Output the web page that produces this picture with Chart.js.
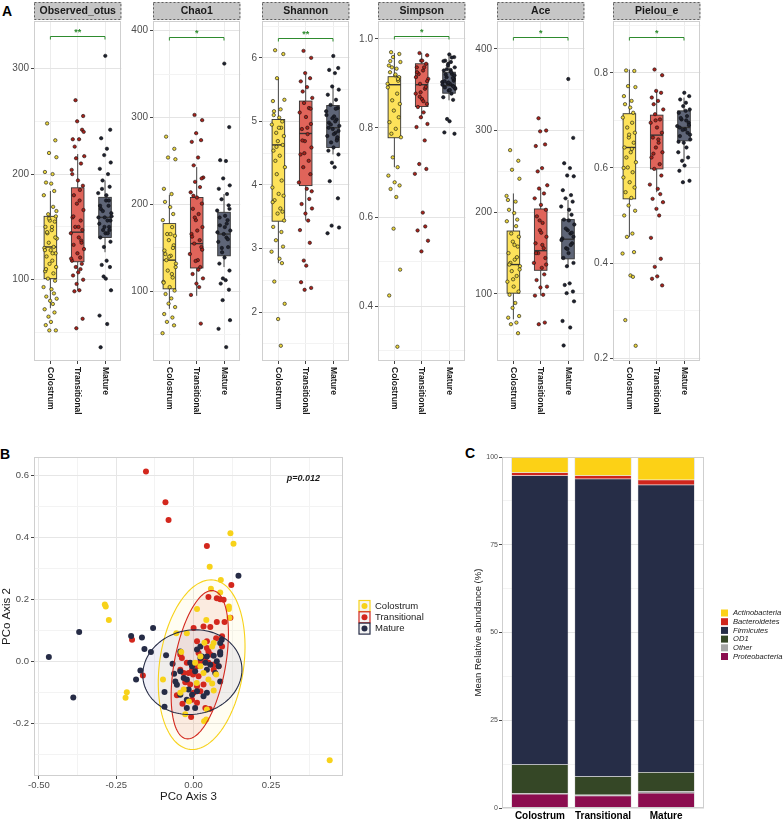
<!DOCTYPE html>
<html>
<head>
<meta charset="utf-8">
<script src="https://cdn.jsdelivr.net/npm/chart.js@4.4.0/dist/chart.umd.min.js"></script>
<style>
  body { margin: 0; background: #fff; width: 783px; height: 820px; position: relative; overflow: hidden; font-family: "Liberation Sans", Arial, sans-serif; }
  canvas { position: absolute; }
  .tag { position: absolute; font-weight: bold; font-size: 14px; line-height: 14px; color: #000; }
</style>
</head>
<body>
<div class="tag" style="left:2px;top:4px">A</div>
<div class="tag" style="left:0px;top:447px">B</div>
<div class="tag" style="left:465px;top:446px">C</div>
<script>
// ---------- data: panel A (alpha diversity) ----------
const groups = ['Colostrum', 'Transitional', 'Mature'];
const metrics = ['Observed_otus', 'Chao1', 'Shannon', 'Simpson', 'Ace', 'Pielou_e'];
const signif = ['**', '*', '**', '*', '*', '*'];

// box stats per group: lower whisker, Q1, median, Q3, upper whisker
const boxObserved = [[73, 101, 131, 160, 184], [90, 117, 145, 187, 219], [126, 140, 159, 178, 194]];
const boxChao1 = [[80, 103, 136, 178, 211], [95, 127, 155, 208, 243], [128, 141, 166, 191, 212]];
const boxShannon = [[2.77, 3.43, 4.63, 5.03, 5.68], [3.44, 3.99, 4.81, 5.32, 5.74], [4.48, 4.59, 4.90, 5.25, 5.55]];
const boxSimpson = [[0.712, 0.778, 0.897, 0.915, 0.968], [0.82, 0.848, 0.897, 0.944, 0.968], [0.862, 0.878, 0.895, 0.925, 0.965]];
const boxAce = [[69, 101, 136, 177, 223], [98, 129, 153, 204, 229], [134, 143, 167, 191, 215]];
const boxPielou = [[0.455, 0.535, 0.643, 0.714, 0.807], [0.549, 0.598, 0.669, 0.711, 0.762], [0.615, 0.657, 0.685, 0.72, 0.748]];

// individual samples
const obsCol = [248, 232, 220, 216, 202, 200, 192, 191, 184, 180, 169, 162, 160, 156, 155, 150, 147, 144, 139, 135, 131, 130, 128, 125, 122, 118, 115, 112, 108, 106, 101, 99, 93, 91, 87, 84, 82, 80, 77, 72, 69, 65, 60, 57, 52, 52, 150, 145, 140, 158, 165, 128, 125, 110];
const obsTra = [270, 255, 250, 242, 233, 233, 226, 217, 215, 210, 204, 194, 189, 180, 175, 172, 166, 159, 156, 150, 147, 144, 140, 137, 133, 129, 125, 121, 118, 115, 112, 107, 104, 100, 96, 90, 89, 63, 54, 240, 200, 185, 160, 150, 135, 120, 110];
const obsMat = [312, 242, 234, 224, 218, 211, 205, 200, 194, 188, 182, 175, 170, 167, 163, 159, 156, 153, 150, 147, 144, 140, 136, 131, 118, 114, 112, 103, 90, 66, 58, 36, 101, 175, 159, 144, 165, 156, 150, 147, 170, 180, 186, 160];

const chaoCol = [278, 264, 254, 252, 218, 212, 203, 197, 189, 182, 174, 166, 164, 159, 153, 147, 141, 136, 132, 124, 116, 111, 105, 101, 97, 92, 86, 82, 74, 70, 65, 61, 52, 166, 150, 143, 128, 140, 120, 110];
const chaoTra = [303, 297, 282, 274, 272, 254, 245, 231, 226, 220, 214, 208, 201, 195, 189, 182, 174, 166, 159, 155, 151, 143, 136, 128, 120, 115, 109, 105, 96, 63, 185, 170, 163, 148, 135, 125, 210, 230];
const chaoMat = [362, 289, 251, 250, 230, 222, 218, 212, 206, 199, 193, 187, 182, 176, 170, 166, 162, 157, 151, 145, 139, 132, 124, 115, 113, 109, 102, 90, 67, 57, 36, 185, 174, 160, 168, 178, 150, 195];

const shanCol = [6.12, 6.06, 5.68, 5.34, 5.32, 5.19, 5.16, 5.06, 5.0, 4.95, 4.9, 4.82, 4.77, 4.69, 4.63, 4.54, 4.46, 4.38, 4.28, 4.17, 4.07, 3.96, 3.86, 3.83, 3.76, 3.63, 3.55, 3.44, 3.34, 3.26, 3.13, 3.03, 2.95, 2.84, 2.77, 2.48, 2.13, 1.89, 1.47, 3.73, 3.58, 4.6, 4.9, 5.1];
const shanTra = [6.11, 6.0, 5.76, 5.68, 5.63, 5.54, 5.47, 5.37, 5.29, 5.21, 5.14, 5.07, 4.96, 4.88, 4.8, 4.69, 4.59, 4.48, 4.38, 4.28, 4.17, 4.04, 3.94, 3.78, 3.7, 3.63, 3.55, 3.44, 3.29, 3.09, 2.81, 2.73, 2.47, 2.38, 2.35, 4.9, 4.7, 5.2, 4.5, 3.9];
const shanMat = [6.03, 5.84, 5.81, 5.76, 5.55, 5.5, 5.42, 5.34, 5.26, 5.21, 5.16, 5.08, 5.03, 4.98, 4.93, 4.88, 4.82, 4.77, 4.72, 4.67, 4.59, 4.54, 4.48, 4.35, 4.28, 4.06, 3.79, 3.36, 3.33, 3.24, 5.0, 4.9, 4.8, 4.7, 5.1, 5.2, 4.95, 4.85, 5.05, 4.75];

const simCol = [0.97, 0.966, 0.959, 0.948, 0.94, 0.933, 0.925, 0.918, 0.906, 0.891, 0.877, 0.862, 0.854, 0.839, 0.824, 0.813, 0.798, 0.787, 0.779, 0.734, 0.712, 0.693, 0.678, 0.671, 0.663, 0.645, 0.574, 0.482, 0.424, 0.309, 0.936, 0.914, 0.899, 0.92, 0.91, 0.95];
const simTra = [0.968, 0.963, 0.951, 0.944, 0.936, 0.929, 0.921, 0.91, 0.899, 0.888, 0.877, 0.865, 0.854, 0.847, 0.835, 0.824, 0.809, 0.802, 0.772, 0.719, 0.708, 0.697, 0.61, 0.579, 0.57, 0.547, 0.523, 0.936, 0.914, 0.892, 0.87, 0.951, 0.925, 0.905, 0.88, 0.86];
const simMat = [0.965, 0.959, 0.951, 0.948, 0.944, 0.936, 0.929, 0.921, 0.914, 0.906, 0.903, 0.899, 0.895, 0.891, 0.888, 0.884, 0.877, 0.869, 0.863, 0.82, 0.815, 0.79, 0.787, 0.94, 0.93, 0.92, 0.91, 0.9, 0.89, 0.95, 0.925, 0.905, 0.885, 0.912, 0.897, 0.958, 0.932, 0.918, 0.902, 0.893];

const aceCol = [276, 263, 252, 241, 215, 213, 203, 199, 191, 189, 183, 174, 170, 164, 158, 150, 142, 138, 134, 128, 122, 115, 109, 103, 99, 89, 83, 73, 71, 65, 63, 52, 220, 160, 145, 136, 130, 118];
const aceTra = [315, 300, 299, 283, 281, 254, 250, 233, 229, 223, 217, 209, 203, 195, 187, 178, 170, 162, 156, 150, 144, 138, 132, 124, 117, 109, 108, 99, 98, 65, 63, 175, 150, 136, 190, 160];
const aceMat = [363, 291, 260, 254, 245, 244, 227, 221, 217, 213, 207, 203, 197, 191, 185, 178, 174, 168, 162, 156, 150, 144, 138, 134, 113, 111, 103, 101, 91, 67, 59, 37, 190, 175, 166, 160, 180, 170, 155];

const pieCol = [0.805, 0.804, 0.772, 0.77, 0.751, 0.741, 0.734, 0.727, 0.716, 0.706, 0.695, 0.685, 0.674, 0.664, 0.653, 0.643, 0.633, 0.622, 0.612, 0.601, 0.591, 0.58, 0.57, 0.559, 0.549, 0.537, 0.521, 0.51, 0.5, 0.462, 0.455, 0.423, 0.42, 0.374, 0.371, 0.28, 0.226, 0.67, 0.64, 0.6];
const pieTra = [0.807, 0.795, 0.762, 0.758, 0.748, 0.741, 0.734, 0.723, 0.713, 0.702, 0.695, 0.685, 0.674, 0.664, 0.653, 0.643, 0.633, 0.622, 0.608, 0.598, 0.584, 0.565, 0.556, 0.545, 0.535, 0.528, 0.514, 0.5, 0.453, 0.409, 0.392, 0.372, 0.367, 0.353, 0.7, 0.66, 0.63];
const pieMat = [0.758, 0.751, 0.744, 0.737, 0.73, 0.723, 0.716, 0.709, 0.702, 0.695, 0.688, 0.681, 0.674, 0.667, 0.66, 0.653, 0.643, 0.633, 0.622, 0.615, 0.605, 0.594, 0.573, 0.57, 0.72, 0.705, 0.69, 0.68, 0.67, 0.655, 0.7, 0.685];

// horizontal jitter of the samples (category units)
const jitter = [-0.12, 0.18, -0.05, 0.22, -0.2, 0.08, -0.16, 0.03, 0.14, -0.24, 0.1, -0.08, 0.2, -0.02, 0.16, -0.18, 0.05, -0.11, 0.24, -0.06, 0.12, -0.22, 0.01, 0.19, -0.14, 0.07, -0.03, 0.21, -0.19, 0.11, -0.09, 0.17, -0.25, 0.04, 0.13, -0.15, 0.23, -0.01, 0.09, -0.21, 0.15, -0.07, 0.02, -0.17, 0.2, -0.04, 0.06];

// axis ranges, grid step, label step, bracket height
const yRange = [[23, 345], [20, 411], [1.23, 6.58], [0.277, 1.04], [18, 434], [0.194, 0.909]];
const yGridStep = [50, 50, 0.5, 0.1, 50, 0.1];
const yLabelStep = [100, 100, 1, 0.2, 100, 0.2];
const bracketAt = [331, 393, 6.32, 1.006, 415, 0.875];

// ---------- data: panel B (PCoA) ----------
const pcoCol = [[0.119, 0.414], [0.129, 0.38], [0.052, 0.306], [0.088, 0.263], [0.056, 0.235], [0.086, 0.223], [0.011, 0.169], [0.114, 0.177], [0.114, 0.169], [0.116, 0.141], [0.041, 0.134], [-0.056, 0.091], [-0.022, 0.091], [0.065, 0.059], [0.06, 0.048], [-0.287, 0.184], [-0.284, 0.177], [-0.274, 0.134], [-0.216, -0.1], [-0.22, -0.118], [-0.099, -0.059], [0.073, -0.043], [0.06, -0.072], [0.065, -0.094], [-0.032, -0.091], [-0.027, -0.171], [0.043, -0.156], [0.034, -0.194], [0.041, -0.188], [0.44, -0.32], [0.022, -0.016], [0.032, -0.038], [0.005, -0.005], [-0.043, -0.102], [0.048, -0.059], [0.022, 0.016], [-0.04, 0.03], [0.01, -0.07], [0.035, 0.06], [-0.015, -0.13]];
const pcoTra = [[-0.154, 0.614], [-0.091, 0.515], [-0.081, 0.457], [0.043, 0.373], [0.122, 0.247], [0.048, 0.208], [0.075, 0.204], [0.086, 0.201], [0.097, 0.199], [-0.199, 0.07], [-0.164, -0.046], [-0.008, -0.18], [-0.036, -0.137], [-0.054, -0.11], [0.038, -0.151], [0.052, -0.154], [0.119, 0.141], [0.1, 0.127], [0.075, 0.127], [0.032, 0.113], [0.054, 0.111], [0, 0.108], [0.011, 0.065], [0.043, 0.065], [0.092, 0.081], [0.073, 0.075], [-0.043, 0.022], [-0.038, 0.011], [0.043, 0.043], [0.048, 0.032], [0.054, 0.022], [0.038, 0.011], [0.048, -0.005], [0.065, -0.011], [0.022, 0], [0.011, -0.016], [-0.005, -0.027], [-0.016, -0.038], [-0.002, -0.043], [0.016, -0.048], [-0.022, -0.065], [-0.011, -0.075], [0.011, -0.081], [0.022, -0.097], [0, -0.102], [-0.027, -0.068], [-0.005, -0.124], [0.011, -0.134], [0.032, -0.075], [0.065, -0.027], [0.081, -0.016], [0.086, 0.027], [0.092, 0.048], [-0.043, -0.027], [-0.032, -0.038], [-0.022, -0.005], [0.016, 0.027]];
const pcoMat = [[0.145, 0.277], [-0.37, 0.095], [-0.468, 0.014], [-0.389, -0.117], [-0.131, 0.108], [-0.202, 0.082], [-0.167, 0.077], [-0.159, 0.04], [-0.138, 0.03], [-0.172, -0.03], [-0.186, -0.059], [-0.089, 0.02], [-0.068, -0.008], [-0.094, -0.099], [-0.094, -0.147], [-0.063, -0.04], [-0.043, 0.032], [-0.054, -0.076], [-0.022, -0.151], [0.005, -0.151], [0.011, 0.038], [0.027, 0.016], [0.043, 0.016], [0.065, 0.018], [0.086, 0.022], [0.091, 0.07], [0.086, 0.03], [0.075, 0], [0.054, -0.011], [0.022, 0.011], [0.038, -0.005], [-0.011, -0.005], [-0.005, -0.016], [0.005, -0.032], [-0.022, -0.059], [-0.016, -0.091], [0.011, -0.097], [0.032, -0.113], [-0.022, -0.124], [-0.005, -0.108], [0.086, -0.065], [0.081, -0.016], [0.07, -0.038], [0.043, -0.027], [-0.043, -0.032], [-0.032, -0.054], [-0.059, -0.065], [-0.043, -0.108], [0.043, -0.102], [0.086, 0.059], [0.022, 0.048]];
// 95% ellipses: centre and the two half-axis vectors (data units)
const ellipseCenter = [[0.026, -0.011], [0.02, -0.011], [-0.004, -0.035]];
const ellipseAxisA = [[0.038, 0.274], [0.039, 0.24], [0.01, 0.137]];
const ellipseAxisB = [[0.135, -0.016], [0.084, 0], [0.16, 0]];
const pValue = 'p=0.012';

// ---------- data: panel C (phylum composition, %) ----------
const phyla = ['Proteobacteria', 'Other', 'OD1', 'Firmicutes', 'Bacteroidetes', 'Actinobacteria'];
const proteobacteria = [4.0, 3.5, 4.3];
const other = [0.2, 0.3, 0.5];
const od1 = [8.2, 5.2, 5.4];
const firmicutes = [82.3, 84.8, 81.9];
const bacteroidetes = [0.9, 0.9, 1.4];
const actinobacteria = [4.4, 5.3, 6.5];

// ---------- styling ----------
Chart.defaults.font.family = '"Liberation Sans", Arial, sans-serif';
const FONT = '"Liberation Sans", Arial, sans-serif';
const boxFill = ['#FDE25A', '#E0645A', '#5E6577'];
const dotFill = ['#EAD53E', '#A8231C', '#1E2230'];
const groupColor = ['#F7D21A', '#D3271D', '#262C46'];
const ellipseFill = ['rgba(255,235,90,0.08)', 'rgba(215,60,40,0.09)', 'rgba(60,70,160,0.08)'];
const phylumColor = ['#8B0D4F', '#A6A6A6', '#354726', '#262D47', '#D0251C', '#FCD116'];
const facetLeft = [34, 153, 262, 378, 497, 613];

function near(v, step) { return Math.abs(v / step - Math.round(v / step)) < 1e-6; }

function addCanvas(left, top, w, h) {
  const cv = document.createElement('canvas');
  cv.width = w; cv.height = h;
  cv.style.left = left + 'px'; cv.style.top = top + 'px';
  document.body.appendChild(cv);
  return cv;
}

function panelBorder(chart) {
  const a = chart.chartArea, ctx = chart.ctx;
  ctx.save();
  ctx.strokeStyle = '#cfcfcf'; ctx.lineWidth = 1;
  ctx.strokeRect(Math.round(a.left) + 0.5, Math.round(a.top) + 0.5, Math.round(a.right - a.left) - 1, Math.round(a.bottom - a.top) - 1);
  ctx.restore();
}

// boxplot, strip, labels, bracket for one facet
function facetDecor(i, boxes) {
  return {
    id: 'facet' + i,
    beforeDatasetsDraw(chart) {
      const { ctx, scales: { x, y } } = chart;
      ctx.save();
      boxes.forEach((b, g) => {
        const cx = x.getPixelForValue(g + 1);
        const hw = x.getPixelForValue(g + 1.23) - cx;
        ctx.strokeStyle = '#333'; ctx.lineWidth = 0.9;
        ctx.beginPath();
        ctx.moveTo(cx, y.getPixelForValue(b[0])); ctx.lineTo(cx, y.getPixelForValue(b[1]));
        ctx.moveTo(cx, y.getPixelForValue(b[3])); ctx.lineTo(cx, y.getPixelForValue(b[4]));
        ctx.stroke();
        const top = y.getPixelForValue(b[3]), bot = y.getPixelForValue(b[1]);
        ctx.fillStyle = boxFill[g];
        ctx.fillRect(cx - hw, top, hw * 2, bot - top);
        ctx.strokeRect(cx - hw, top, hw * 2, bot - top);
        ctx.lineWidth = 1.4;
        ctx.beginPath();
        const m = y.getPixelForValue(b[2]);
        ctx.moveTo(cx - hw, m); ctx.lineTo(cx + hw, m);
        ctx.stroke();
      });
      ctx.restore();
    },
    afterDraw(chart) {
      const { ctx, chartArea: a, scales: { x, y } } = chart;
      panelBorder(chart);
      ctx.save();
      // strip
      ctx.fillStyle = '#C6C6C6';
      ctx.fillRect(a.left, 2, a.right - a.left, 18);
      ctx.setLineDash([2, 2]);
      ctx.strokeStyle = '#444'; ctx.lineWidth = 0.8;
      ctx.strokeRect(a.left + 0.5, 2.5, a.right - a.left - 1, 17);
      ctx.setLineDash([]);
      ctx.fillStyle = '#1a1a1a';
      ctx.font = 'bold 10.5px ' + FONT;
      ctx.textAlign = 'center'; ctx.textBaseline = 'middle';
      ctx.fillText(metrics[i], (a.left + a.right) / 2, 11.5);
      // category labels, rotated
      ctx.font = 'bold 8.5px ' + FONT;
      ctx.textAlign = 'left';
      groups.forEach((gname, g) => {
        ctx.save();
        ctx.translate(x.getPixelForValue(g + 1), a.bottom + 6);
        ctx.rotate(Math.PI / 2);
        ctx.fillText(gname, 0, 0);
        ctx.restore();
      });
      // significance bracket
      const by = Math.round(y.getPixelForValue(bracketAt[i])) + 0.5;
      const x1 = x.getPixelForValue(1), x3 = x.getPixelForValue(3);
      ctx.strokeStyle = '#2E8B2E'; ctx.lineWidth = 1;
      ctx.beginPath();
      ctx.moveTo(x1, by + 3); ctx.lineTo(x1, by); ctx.lineTo(x3, by); ctx.lineTo(x3, by + 3);
      ctx.stroke();
      ctx.fillStyle = '#2E8B2E';
      ctx.font = 'bold 9px ' + FONT;
      ctx.textBaseline = 'bottom'; ctx.textAlign = 'center';
      ctx.fillText(signif[i], x.getPixelForValue(2), by + 1);
      ctx.restore();
    }
  };
}

const allBoxes = [boxObserved, boxChao1, boxShannon, boxSimpson, boxAce, boxPielou];
const allPoints = [[obsCol, obsTra, obsMat], [chaoCol, chaoTra, chaoMat], [shanCol, shanTra, shanMat],
  [simCol, simTra, simMat], [aceCol, aceTra, aceMat], [pieCol, pieTra, pieMat]];

metrics.forEach((name, i) => {
  const cv = addCanvas(facetLeft[i] - 32, 0, 124, 440);
  const lab = yLabelStep[i];
  const dec = lab < 1 ? 1 : 0;
  new Chart(cv, {
    type: 'scatter',
    data: {
      datasets: allPoints[i].map((vals, g) => ({
        label: groups[g],
        data: vals.map((v, k) => ({ x: g + 1 + jitter[(k + g * 11) % jitter.length], y: v })),
        pointRadius: 1.7,
        backgroundColor: dotFill[g],
        borderColor: '#111',
        borderWidth: 0.6
      }))
    },
    options: {
      responsive: false, animation: false, events: [],
      layout: { padding: { top: 21, right: 2, left: 0, bottom: 0 } },
      plugins: { legend: { display: false }, tooltip: { enabled: false } },
      scales: {
        x: {
          type: 'linear', min: 0.4, max: 3.6,
          afterBuildTicks: s => { s.ticks = [1, 2, 3].map(v => ({ value: v })); },
          afterFit: s => { s.height = 79; },
          ticks: { display: false },
          grid: { color: '#ececec', tickColor: '#444', tickLength: 3 },
          border: { display: false }
        },
        y: {
          min: yRange[i][0], max: yRange[i][1],
          afterFit: s => { s.width = 32; },
          ticks: {
            stepSize: yGridStep[i], includeBounds: false, autoSkip: false,
            color: '#4d4d4d', font: { size: 10 }, padding: 2,
            callback: v => near(v, lab) ? v.toFixed(dec) : ''
          },
          grid: {
            color: c => near(c.tick.value, lab) ? '#e4e4e4' : '#f3f3f3',
            tickColor: c => near(c.tick.value, lab) ? '#444' : 'rgba(0,0,0,0)',
            tickLength: 3
          },
          border: { display: false }
        }
      }
    },
    plugins: [facetDecor(i, allBoxes[i])]
  });
});

// ---------- panel B ----------
function ellipsePath(ctx, x, y, g) {
  const c = ellipseCenter[g], A = ellipseAxisA[g], B = ellipseAxisB[g];
  ctx.beginPath();
  for (let s = 0; s <= 120; s++) {
    const t = s / 120 * 2 * Math.PI;
    const px = x.getPixelForValue(c[0] + A[0] * Math.cos(t) + B[0] * Math.sin(t));
    const py = y.getPixelForValue(c[1] + A[1] * Math.cos(t) + B[1] * Math.sin(t));
    if (s) ctx.lineTo(px, py); else ctx.moveTo(px, py);
  }
  ctx.closePath();
}

const pcoPlugin = {
  id: 'pco',
  beforeDatasetsDraw(chart) {
    const { ctx, scales: { x, y } } = chart;
    ctx.save();
    [0, 1, 2].forEach(g => { ellipsePath(ctx, x, y, g); ctx.fillStyle = ellipseFill[g]; ctx.fill(); });
    ctx.restore();
  },
  afterDatasetsDraw(chart) {
    const { ctx, scales: { x, y } } = chart;
    ctx.save();
    ctx.lineWidth = 1.1;
    [0, 1, 2].forEach(g => { ellipsePath(ctx, x, y, g); ctx.strokeStyle = groupColor[g]; ctx.stroke(); });
    ctx.restore();
  },
  afterDraw(chart) {
    const { ctx, scales: { x, y } } = chart;
    panelBorder(chart);
    ctx.save();
    ctx.fillStyle = '#1a1a1a';
    ctx.font = 'bold italic 9px ' + FONT;
    ctx.textAlign = 'center'; ctx.textBaseline = 'middle';
    ctx.fillText(pValue, x.getPixelForValue(0.355), y.getPixelForValue(0.593));
    // legend
    groups.forEach((gname, g) => {
      const cy = 166 + g * 11.3;
      ctx.fillStyle = '#f4f4f4';
      ctx.fillRect(359, cy - 5.5, 11, 11);
      ctx.strokeStyle = groupColor[g]; ctx.lineWidth = 1.2;
      ctx.strokeRect(359, cy - 5.5, 11, 11);
      ctx.fillStyle = groupColor[g];
      ctx.beginPath(); ctx.arc(364.5, cy, 3, 0, 2 * Math.PI); ctx.fill();
      ctx.fillStyle = '#1a1a1a';
      ctx.font = '9.5px ' + FONT;
      ctx.textAlign = 'left';
      ctx.fillText(gname, 375, cy);
    });
    ctx.restore();
  }
};

new Chart(addCanvas(0, 440, 460, 380), {
  type: 'scatter',
  data: {
    datasets: [[pcoCol, 0], [pcoMat, 2], [pcoTra, 1]].map(([pts, g]) => ({
      label: groups[g],
      data: pts.map(p => ({ x: p[0], y: p[1] })),
      pointRadius: 3, borderWidth: 0,
      backgroundColor: groupColor[g]
    }))
  },
  options: {
    responsive: false, animation: false, events: [],
    layout: { padding: { top: 17, right: 117, left: 0, bottom: 0 } },
    plugins: { legend: { display: false }, tooltip: { enabled: false } },
    scales: {
      x: {
        type: 'linear', min: -0.516, max: 0.483,
        afterFit: s => { s.height = 44; },
        title: { display: true, text: 'PCo Axis 3', color: '#1a1a1a', font: { size: 11.5 }, padding: { top: 0, bottom: 16 } },
        ticks: {
          stepSize: 0.125, includeBounds: false, autoSkip: false, maxRotation: 0,
          color: '#4d4d4d', font: { size: 9.5 }, padding: 1,
          callback: v => near(v, 0.25) ? (Math.abs(v) < 1e-9 ? 0 : v).toFixed(2) : ''
        },
        grid: {
          color: c => near(c.tick.value, 0.25) ? '#e6e6e6' : '#f3f3f3',
          tickColor: c => near(c.tick.value, 0.25) ? '#444' : 'rgba(0,0,0,0)',
          tickLength: 3
        },
        border: { display: false }
      },
      y: {
        min: -0.371, max: 0.661,
        afterFit: s => { s.width = 34; },
        title: { display: true, text: 'PCo Axis 2', color: '#1a1a1a', font: { size: 11.5 }, padding: { top: 0, bottom: 2 } },
        ticks: {
          stepSize: 0.1, includeBounds: false, autoSkip: false,
          color: '#4d4d4d', font: { size: 9.5 }, padding: 2,
          callback: v => near(v, 0.2) ? (Math.abs(v) < 1e-9 ? 0 : v).toFixed(1) : ''
        },
        grid: {
          color: c => near(c.tick.value, 0.2) ? '#e6e6e6' : '#f3f3f3',
          tickColor: c => near(c.tick.value, 0.2) ? '#444' : 'rgba(0,0,0,0)',
          tickLength: 3
        },
        border: { display: false }
      }
    }
  },
  plugins: [pcoPlugin]
});

// ---------- panel C ----------
const phylumValues = [proteobacteria, other, od1, firmicutes, bacteroidetes, actinobacteria];
const legendOrder = ['Actinobacteria', 'Bacteroidetes', 'Firmicutes', 'OD1', 'Other', 'Proteobacteria'];

const barPlugin = {
  id: 'bars',
  afterDraw(chart) {
    const ctx = chart.ctx;
    panelBorder(chart);
    ctx.save();
    ctx.textBaseline = 'middle'; ctx.textAlign = 'left';
    legendOrder.forEach((name, k) => {
      const cy = 173 + k * 8.7;
      ctx.fillStyle = phylumColor[phyla.indexOf(name)];
      ctx.fillRect(261, cy - 3.5, 7, 7);
      ctx.fillStyle = '#1a1a1a';
      ctx.font = 'italic 7.6px ' + FONT;
      ctx.fillText(name, 273, cy);
    });
    ctx.restore();
  }
};

new Chart(addCanvas(460, 440, 323, 380), {
  type: 'bar',
  data: {
    datasets: phyla.map((name, k) => ({
      label: name,
      data: phylumValues[k].map((v, j) => ({ x: j + 1, y: v })),
      backgroundColor: phylumColor[k],
      borderColor: 'rgba(140,140,140,0.8)',
      borderWidth: 0.5,
      barPercentage: 0.9,
      categoryPercentage: 1
    }))
  },
  options: {
    responsive: false, animation: false, events: [],
    layout: { padding: { top: 17, right: 79, left: 0, bottom: 0 } },
    plugins: { legend: { display: false }, tooltip: { enabled: false } },
    scales: {
      x: {
        type: 'linear', min: 0.4, max: 3.6, stacked: true, offset: false,
        afterBuildTicks: s => { s.ticks = [1, 2, 3].map(v => ({ value: v })); },
        afterFit: s => { s.height = 12; },
        ticks: { color: '#000', font: { size: 10, weight: 'bold' }, padding: 2, maxRotation: 0, callback: v => groups[v - 1] },
        grid: { display: false, drawTicks: false, tickLength: 0 },
        border: { display: false }
      },
      y: {
        min: 0, max: 100, stacked: true,
        afterFit: s => { s.width = 42; },
        title: { display: true, text: 'Mean Relative abundance (%)', color: '#1a1a1a', font: { size: 9.5 }, padding: { top: 13, bottom: 2 } },
        ticks: {
          stepSize: 12.5, autoSkip: false, color: '#4d4d4d', font: { size: 7 }, padding: 1,
          callback: v => near(v, 25) ? String(v) : ''
        },
        grid: {
          color: c => near(c.tick.value, 25) ? '#e6e6e6' : '#f3f3f3',
          tickColor: c => near(c.tick.value, 25) ? '#444' : 'rgba(0,0,0,0)',
          tickLength: 3
        },
        border: { display: false }
      }
    }
  },
  plugins: [barPlugin]
});
</script>
</body>
</html>
